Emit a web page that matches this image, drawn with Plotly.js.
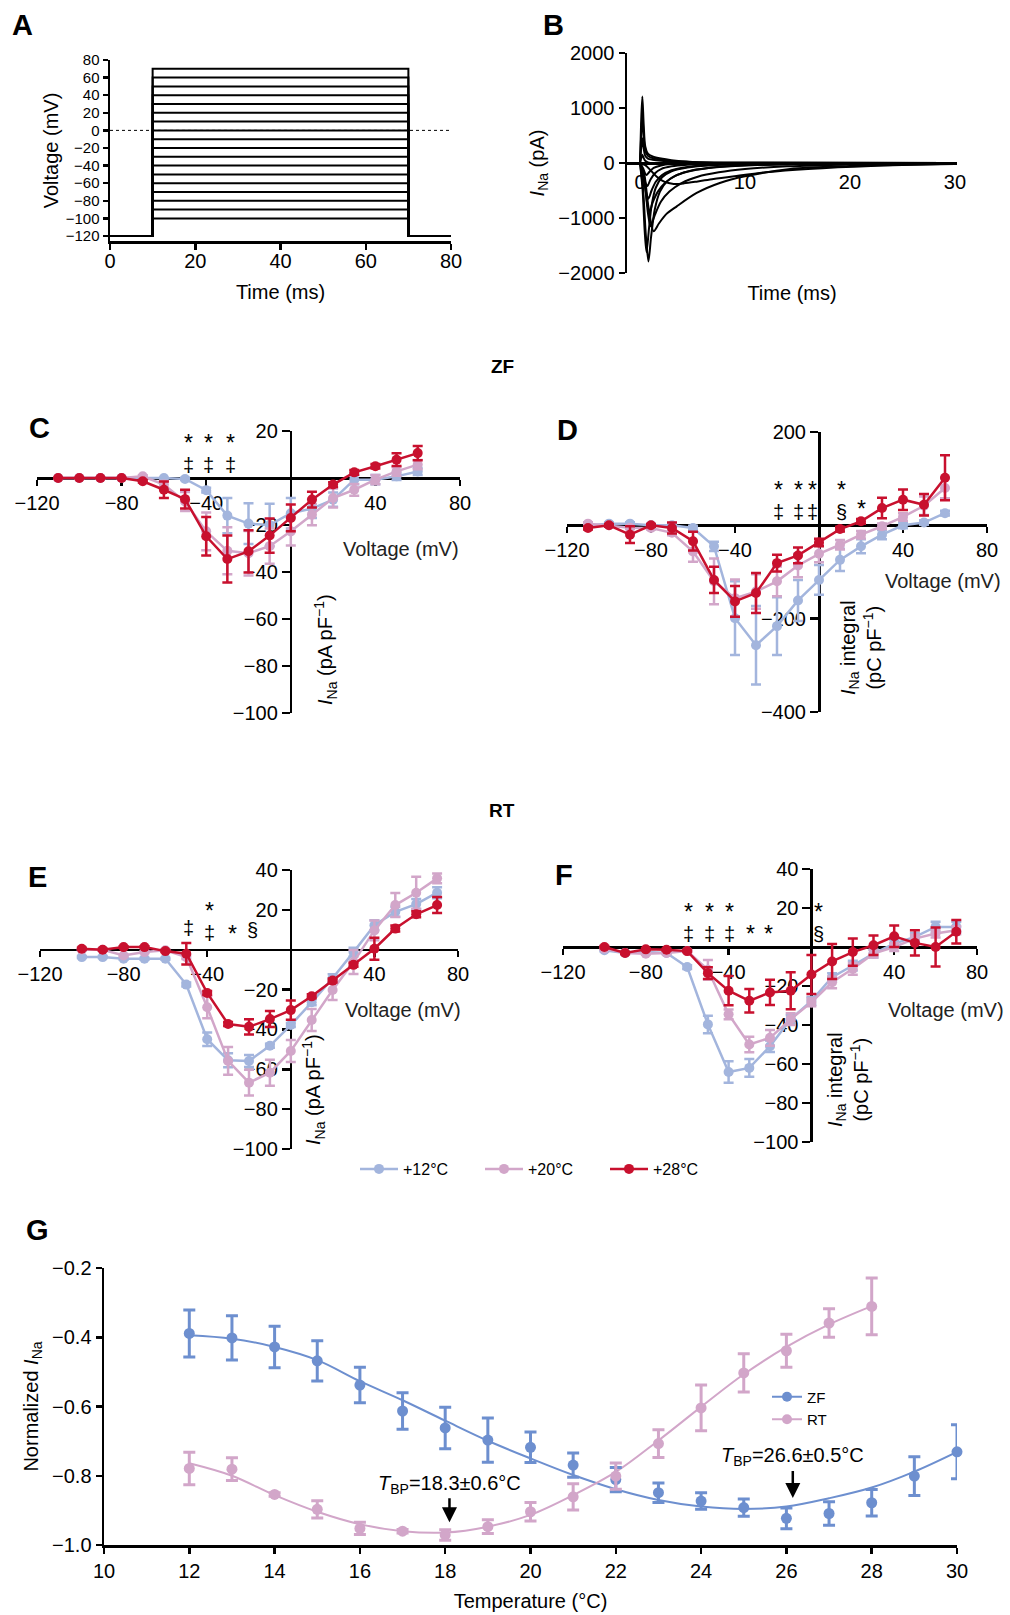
<!DOCTYPE html>
<html><head><meta charset="utf-8">
<script src="https://cdn.plot.ly/plotly-3.0.1.min.js"></script>
<style>html,body{margin:0;padding:0;background:#fff}#chart{width:1010px;height:1615px}</style>
</head><body><div id="chart"></div>
<script>
// ---------------- DATA ----------------
// Panel A: voltage protocol
const protocolTimes = [0, 10, 10, 70, 70, 80];
const holdingV = -120;
const stepVoltages = [-100,-90,-80,-70,-60,-50,-40,-30,-20,-10,0,10,20,30,40,50,60,70];

// Panel B: representative current traces (time ms, current pA)
const bT1 = [0,0.3,0.55,0.8,1.05,1.4,1.9,2.6,3.5,5,7,10,15,20,30];
const bI1 = [0,-500,-1300,-1790,-1350,-850,-520,-330,-220,-130,-80,-45,-20,-10,0];
const bT2 = [0,0.25,0.45,0.62,0.85,1.1,1.5,2.1,3,4.5,7,12,20,30];
const bI2 = [0,-500,-1250,-1620,-1200,-780,-450,-260,-150,-80,-40,-15,-5,0];
const bT3 = [0,0.4,0.8,1.3,1.8,2.5,3.5,5.4,7.6,10,14.3,20,25,30];
const bI3 = [0,-200,-800,-1240,-1100,-930,-788,-545,-364,-242,-109,-55,-30,-15];
const bT4 = [0,0.4,0.75,1.0,1.4,2,2.8,4,5.5,7.5,10,14,20,30];
const bI4 = [0,-300,-900,-1150,-950,-700,-520,-360,-250,-170,-110,-60,-25,-5];
const bT5 = [0,0.4,0.7,0.9,1.2,1.7,2.4,3.3,4.5,6.5,9,13,20,30];
const bI5 = [0,-300,-750,-900,-720,-520,-360,-240,-160,-90,-50,-25,-8,0];
const bT6 = [0,0.35,0.6,0.8,1.1,1.5,2.1,3,4.2,6,9,15,30];
const bI6 = [0,-250,-550,-650,-500,-340,-220,-130,-80,-40,-20,-5,0];
const bT7 = [0,0.3,0.5,0.7,1,1.4,2,3,4.5,7,12,30];
const bI7 = [0,-150,-350,-420,-300,-190,-110,-60,-30,-12,-4,0];
const bT8 = [0,0.3,0.6,0.9,1.3,2,3,5,10,30];
const bI8 = [0,-100,-220,-160,-90,-45,-20,-8,0,0];
const bT9 = [0,0.5,1,1.6,2.3,3.2,4.2,5.5,7,9,12,16,22,30];
const bI9 = [0,-40,-130,-250,-340,-380,-370,-335,-290,-240,-170,-110,-55,-20];
const bTout = [0,0.1,0.22,0.35,0.5,0.75,1.2,2,3,5,8,30];
const bO1 = [0,700,1210,700,300,170,120,80,50,20,5,0];
const bO2 = [0,450,850,480,220,130,90,60,35,15,5,0];
const bO3 = [0,250,450,260,130,80,60,40,25,10,3,0];
const bO4 = [0,80,150,90,40,10,-10,-15,-10,-5,0,0];

// Panels C, D (ZF): voltage steps
const voltsZF = [-110,-100,-90,-80,-70,-60,-50,-40,-30,-20,-10,0,10,20,30,40,50,60];
const cMean12 = [0,0,0,0,0,0,-0.4,-5.2,-16,-19.4,-20,-15,-13,-9.2,-0.7,-0.7,0.7,2.8];
const cErr12  = [0,0,0,0,0,0,0.5,1,7.5,8.7,9,6.5,4,3,2,2,1.5,1.5];
const cMean20 = [0,0,0,0,0.7,-2.8,-10,-22.7,-31,-32,-29,-22.7,-15.6,-8.5,-5,-0.7,2.8,5.7];
const cErr20  = [0,0,0,0,0.5,1.5,4,8,10,9.5,7.5,6,4.5,4,2.5,2,1.8,2];
const cMean28 = [0,0,0,0,-1.4,-5,-9,-24.8,-34.5,-31.2,-24.5,-17,-9.2,-2.8,2.4,5,7.8,10.6];
const cErr28  = [0,0,0,0,0.5,3.5,4,8.2,10,9,7.3,5.7,3.3,1,1,1,2.7,3];

const dMean12 = [0,3.6,3.6,0,0,-5.7,-45,-199,-257,-216,-161,-117,-74,-45,-20,0,6,26];
const dErr12  = [3,3,3,3,3,5,10,79,84,62,44,32,24,15,10,6,5,5];
const dMean20 = [3.6,0,-5,-5.7,-16,-56,-120,-156,-142,-120,-86,-61,-41.6,-20,-2,18,42,80];
const dErr20  = [3,3,3,3,5,22,49,40,37,32,25,18,10,8,6,8,20,22];
const dMean28 = [-5.7,0,-20,0,-5.7,-34,-117,-163,-145,-81,-64.5,-36.6,-8,8.6,37,55,44,102];
const dErr28  = [3,3,18,3,12,20,28,33,43,18,17,8,5,5,22,22,23,48];

// Panels E, F (RT)
const voltsRT = [-100,-90,-80,-70,-60,-50,-40,-30,-20,-10,0,10,20,30,40,50,60,70];
const eMean12 = [-3.7,-3.7,-4.5,-4.5,-4.5,-17.5,-44.9,-55.5,-55.8,-48.2,-37.8,-26.4,-14.3,-1.2,12.3,19,22.9,28.6];
const eErr12  = [0.5,0.5,0.5,0.5,0.5,1,3.4,3.5,3,1,1,1.5,2,2.2,2.5,2.5,2.5,2.8];
const eMean20 = [0,0,-2.9,-1.2,-0.3,-3.7,-28.9,-55.8,-66.7,-61.7,-50.8,-35.3,-20.2,-6.2,9.7,22.4,28.6,35.8];
const eErr20  = [0.5,0.5,0.5,0.5,0.5,1,5.5,7,6.5,6.5,5.5,5.5,5,6,5,6,8,2.5];
const eMean28 = [0.5,0,1.3,1.3,-0.7,-2,-21.7,-37.3,-38.7,-34.8,-30.3,-23.4,-15.5,-7.6,0.5,10.6,17.8,22.4];
const eErr28  = [0.5,0.5,0.5,0.5,0.5,5.4,1,1,3.8,4,4.8,1,1,1,5.5,1.5,1.5,4];

const fMean12 = [-1.7,-3.1,-2.6,-3.1,-10.3,-39.7,-64.1,-62,-50.9,-37,-27.6,-15.5,-9.5,-3.4,1.7,5.2,10.3,10.3];
const fErr12  = [0.5,0.5,0.5,0.5,1,4.5,5.5,4.5,3,2,2,2,2.5,2,2,2,2.6,2.6];
const fMean20 = [-0.9,-3.1,-3.4,-3.1,-2.1,-11.7,-34.5,-50,-46.6,-37,-28.4,-18.1,-11.2,-3.4,0,4.3,6.9,8.6];
const fErr20  = [0.5,0.5,0.5,0.5,0.5,5,2.5,4,4,3,2,3,3,2,2,2,2,2];
const fMean28 = [0,-3.1,-1.2,-1.4,-2.1,-13.4,-22.4,-27.6,-23.3,-22.4,-14.1,-7.4,-2.6,0.9,5.5,2.1,0,7.8];
const fErr28  = [0.5,0.5,0.5,0.5,0.5,3,7.5,6,6.5,9.5,10,9,7,5,5.5,6.5,10,6];

// Panel G: normalized INa vs temperature
const tempZF = [12,13,14,15,16,17,18,19,20,21,22,23,24,25,26,27,28,29,30];
const zfMean = [-0.389,-0.402,-0.428,-0.468,-0.538,-0.613,-0.662,-0.697,-0.718,-0.769,-0.811,-0.849,-0.873,-0.892,-0.923,-0.909,-0.878,-0.801,-0.731];
const zfErr  = [0.068,0.064,0.06,0.058,0.051,0.053,0.06,0.064,0.044,0.035,0.035,0.028,0.024,0.025,0.03,0.034,0.038,0.056,0.078];
const zfFit  = [-0.394,-0.404,-0.428,-0.466,-0.527,-0.582,-0.641,-0.699,-0.75,-0.798,-0.839,-0.87,-0.889,-0.896,-0.889,-0.865,-0.834,-0.788,-0.731];
const tempRT = [12,13,14,15,16,17,18,19,20,21,22,23,24,25,26,27,28];
const rtMean = [-0.779,-0.781,-0.854,-0.897,-0.952,-0.96,-0.971,-0.947,-0.904,-0.861,-0.801,-0.707,-0.604,-0.503,-0.439,-0.359,-0.311];
const rtErr  = [0.047,0.033,0.005,0.025,0.018,0.005,0.015,0.02,0.027,0.038,0.038,0.04,0.066,0.055,0.048,0.041,0.082];
const rtFit  = [-0.764,-0.80,-0.856,-0.904,-0.94,-0.96,-0.964,-0.947,-0.913,-0.856,-0.789,-0.698,-0.601,-0.507,-0.428,-0.363,-0.31];
const breakpointRT = {t: 18.1, y: -0.934, label: '<i>T</i><sub>BP</sub>=18.3±0.6°C'};
const breakpointZF = {t: 26.15, y: -0.864, label: '<i>T</i><sub>BP</sub>=26.6±0.5°C'};

// ---------------- STYLE / LAYOUT ----------------
const W = 1010, H = 1615;
const px = v => v / W;
const py = v => 1 - v / H;
const FONT = 'Liberation Sans, Arial, Helvetica, sans-serif';
const C12 = '#a3b5dd', C20 = '#d2a6c9', C28 = '#c8102e';
const CZF = '#6d8fcf', CRT = '#d2a6c9';

function ax(extra) {
  return Object.assign({
    showline: true, linecolor: '#000', linewidth: 2.5,
    ticks: 'outside', ticklen: 6, tickwidth: 2.5, tickcolor: '#000',
    showgrid: false, zeroline: false, automargin: false, fixedrange: true,
    tickfont: {family: FONT, size: 20, color: '#000'}
  }, extra);
}

const traces = [];

// Panel A
stepVoltages.forEach(v => {
  traces.push({type: 'scatter', mode: 'lines', x: protocolTimes,
    y: [holdingV, holdingV, v, v, holdingV, holdingV],
    line: {color: '#000', width: 2}, xaxis: 'x', yaxis: 'y', showlegend: false, hoverinfo: 'skip'});
});

// Panel B
[[bT1,bI1],[bT2,bI2],[bT3,bI3],[bT4,bI4],[bT5,bI5],[bT6,bI6],[bT7,bI7],[bT8,bI8],[bT9,bI9],
 [bTout,bO1],[bTout,bO2],[bTout,bO3],[bTout,bO4]].forEach(([t, i]) => {
  traces.push({type: 'scatter', mode: 'lines', x: t, y: i,
    line: {color: '#000', width: 2, shape: 'spline', smoothing: 0.8},
    xaxis: 'x2', yaxis: 'y2', showlegend: false, hoverinfo: 'skip'});
});

function ivTrace(x, y, err, color, name, xa, ya, showlegend) {
  return {type: 'scatter', mode: 'lines+markers', x: x, y: y, name: name,
    error_y: {type: 'data', array: err, visible: true, color: color, thickness: 2.5, width: 5},
    line: {color: color, width: 2.5}, marker: {color: color, size: 10},
    xaxis: xa, yaxis: ya, showlegend: showlegend, legend: 'legend', cliponaxis: false};
}
// C
traces.push(ivTrace(voltsZF, cMean12, cErr12, C12, '+12°C', 'x3', 'y3', true));
traces.push(ivTrace(voltsZF, cMean20, cErr20, C20, '+20°C', 'x3', 'y3', true));
traces.push(ivTrace(voltsZF, cMean28, cErr28, C28, '+28°C', 'x3', 'y3', true));
// D
traces.push(ivTrace(voltsZF, dMean12, dErr12, C12, '+12°C', 'x4', 'y4', false));
traces.push(ivTrace(voltsZF, dMean20, dErr20, C20, '+20°C', 'x4', 'y4', false));
traces.push(ivTrace(voltsZF, dMean28, dErr28, C28, '+28°C', 'x4', 'y4', false));
// E
traces.push(ivTrace(voltsRT, eMean12, eErr12, C12, '+12°C', 'x5', 'y5', false));
traces.push(ivTrace(voltsRT, eMean20, eErr20, C20, '+20°C', 'x5', 'y5', false));
traces.push(ivTrace(voltsRT, eMean28, eErr28, C28, '+28°C', 'x5', 'y5', false));
// F
traces.push(ivTrace(voltsRT, fMean12, fErr12, C12, '+12°C', 'x6', 'y6', false));
traces.push(ivTrace(voltsRT, fMean20, fErr20, C20, '+20°C', 'x6', 'y6', false));
traces.push(ivTrace(voltsRT, fMean28, fErr28, C28, '+28°C', 'x6', 'y6', false));

// G
traces.push({type: 'scatter', mode: 'lines', x: tempZF, y: zfFit, line: {color: CZF, width: 2, shape: 'spline'},
  xaxis: 'x7', yaxis: 'y7', showlegend: false, hoverinfo: 'skip'});
traces.push({type: 'scatter', mode: 'lines', x: tempRT, y: rtFit, line: {color: CRT, width: 2, shape: 'spline'},
  xaxis: 'x7', yaxis: 'y7', showlegend: false, hoverinfo: 'skip'});
traces.push({type: 'scatter', mode: 'markers', x: tempZF, y: zfMean, name: 'ZF',
  error_y: {type: 'data', array: zfErr, color: CZF, thickness: 3, width: 6},
  marker: {color: CZF, size: 11}, xaxis: 'x7', yaxis: 'y7', showlegend: false, cliponaxis: false});
traces.push({type: 'scatter', mode: 'markers', x: tempRT, y: rtMean, name: 'RT',
  error_y: {type: 'data', array: rtErr, color: CRT, thickness: 3, width: 6},
  marker: {color: CRT, size: 11}, xaxis: 'x7', yaxis: 'y7', showlegend: false, cliponaxis: false});
traces.push({type: 'scatter', mode: 'lines+markers', x: [null], y: [null], name: 'ZF', legend: 'legend2',
  line: {color: CZF, width: 2}, marker: {color: CZF, size: 10}, xaxis: 'x7', yaxis: 'y7'});
traces.push({type: 'scatter', mode: 'lines+markers', x: [null], y: [null], name: 'RT', legend: 'legend2',
  line: {color: CRT, width: 2}, marker: {color: CRT, size: 10}, xaxis: 'x7', yaxis: 'y7'});

// annotations
const ann = [];
function txt(text, x, y, size, opts) {
  ann.push(Object.assign({text: text, x: px(x), y: py(y), xref: 'paper', yref: 'paper',
    showarrow: false, xanchor: 'center', yanchor: 'middle',
    font: {family: FONT, size: size, color: '#000'}}, opts || {}));
}
// panel letters
[['A',22,25],['B',553,25],['C',39,428],['D',567,430],['E',37,877],['F',564,875],['G',37,1230]]
  .forEach(([l,x,y]) => txt('<b>' + l + '</b>', x, y, 29));
txt('<b>ZF</b>', 502, 367, 19);
txt('<b>RT</b>', 502, 810, 19);
// axis titles C-F
const titleFont = {family: FONT, size: 20, color: '#222'};
txt('Voltage (mV)', 401, 549, 20, {font: titleFont});
txt('Voltage (mV)', 943, 581, 20, {font: titleFont});
txt('Voltage (mV)', 403, 1010, 20, {font: titleFont});
txt('Voltage (mV)', 946, 1010, 20, {font: titleFont});
txt('<i>I</i><sub>Na</sub> (pA pF<sup>−1</sup>)', 325, 650, 20, {textangle: -90});
txt('<i>I</i><sub>Na</sub> (pA pF<sup>−1</sup>)', 313, 1090, 20, {textangle: -90});
txt('<i>I</i><sub>Na</sub> integral<br>(pC pF<sup>−1</sup>)', 861, 648, 20, {textangle: -90});
txt('<i>I</i><sub>Na</sub> integral<br>(pC pF<sup>−1</sup>)', 848, 1080, 20, {textangle: -90});
// significance marks
const STAR = '<span style="font-size:23px">*</span>';
function big(s) { return '<span style="font-size:20px">' + s + '</span>'; }
function sig(x, yTop, lines) {
  // two-line marks use a smaller base size so the rows sit closer together
  const two = lines.length > 1;
  ann.push({text: two ? lines.map(big).join('<br>') : lines[0], x: px(x), y: py(yTop),
    xref: 'paper', yref: 'paper', showarrow: false, xanchor: 'center', yanchor: 'top', align: 'center',
    font: {family: FONT, size: two ? 16 : 20, color: '#000'}});
}
// C
[188,208,230].forEach(x => sig(x, 428, [STAR, '‡']));
// D
sig(778, 475, [STAR, '‡']); sig(798, 475, [STAR, '‡']); sig(812, 475, [STAR, '‡']);
sig(841, 475, [STAR, '§']); sig(861, 494, [STAR]);
// E
sig(188, 915, ['‡']); sig(209, 896, [STAR, '‡']); sig(232, 919, [STAR]); sig(252, 917, ['§']);
// F
[688,709,729].forEach(x => sig(x, 897, [STAR, '‡']));
sig(750, 919, [STAR]); sig(768, 919, [STAR]); sig(818, 897, [STAR, '§']);
// breakpoint arrows in G
[[breakpointRT, -38], [breakpointZF, -41]].forEach(([bp, off]) => {
  ann.push({x: bp.t, y: bp.y, xref: 'x7', yref: 'y7', text: bp.label, showarrow: true,
    arrowhead: 2, arrowsize: 1.2, arrowwidth: 2.5, arrowcolor: '#000', ax: 0, ay: off,
    font: {family: FONT, size: 20, color: '#000'}});
});

const layout = {
  width: W, height: H, margin: {l: 0, r: 0, t: 0, b: 0},
  paper_bgcolor: '#fff', plot_bgcolor: 'rgba(0,0,0,0)',
  font: {family: FONT, size: 20, color: '#000'},
  // A
  xaxis: ax({domain: [px(110), px(451)], range: [0, 80], tickvals: [0,20,40,60,80], anchor: 'y',
    ticklabelstandoff: -6,
    title: {text: 'Time (ms)', font: {family: FONT, size: 20}, standoff: 15}}),
  yaxis: ax({domain: [py(241), py(60)], range: [-125.7, 80], tickvals: [-120,-100,-80,-60,-40,-20,0,20,40,60,80],
    anchor: 'x', tickfont: {family: FONT, size: 15, color: '#000'}, ticklen: 5,
    title: {text: 'Voltage (mV)', font: {family: FONT, size: 20}, standoff: 2}}),
  // B
  xaxis2: ax({domain: [px(627), px(957)], range: [-1.24, 30.2], tickvals: [0,10,20,30], anchor: 'free',
    position: py(163), layer: 'below traces', ticks: '',
    title: {text: 'Time (ms)', font: {family: FONT, size: 20}, standoff: 94}}),
  yaxis2: ax({domain: [py(273), py(53)], range: [-2000, 2000], tickvals: [-2000,-1000,0,1000,2000],
    tickformat: 'd', anchor: 'x2',
    title: {text: '<i>I</i><sub>Na</sub> (pA)', font: {family: FONT, size: 20}, standoff: 9}}),
  // C
  xaxis3: ax({domain: [px(37), px(460)], range: [-120, 80], tickvals: [-120,-80,-40,40,80],
    anchor: 'free', position: py(478), layer: 'below traces'}),
  yaxis3: ax({domain: [py(713), py(431)], range: [-100, 20], tickvals: [-100,-80,-60,-40,-20,20],
    anchor: 'free', position: px(290.8), layer: 'below traces', ticklen: 8}),
  // D
  xaxis4: ax({domain: [px(567), px(987)], range: [-120, 80], tickvals: [-120,-80,-40,40,80],
    anchor: 'free', position: py(525.3), layer: 'below traces'}),
  yaxis4: ax({domain: [py(712), py(432)], range: [-400, 200], tickvals: [-400,-200,200],
    anchor: 'free', position: px(819), layer: 'below traces', ticklen: 8}),
  // E
  xaxis5: ax({domain: [px(40), px(458)], range: [-120, 80], tickvals: [-120,-80,-40,40,80],
    anchor: 'free', position: py(949.7), layer: 'below traces'}),
  yaxis5: ax({domain: [py(1149), py(870)], range: [-100, 40], tickvals: [-100,-80,-60,-40,-20,20,40],
    anchor: 'free', position: px(290.8), layer: 'below traces', ticklen: 8}),
  // F
  xaxis6: ax({domain: [px(563), px(977)], range: [-120, 80], tickvals: [-120,-80,-40,40,80],
    anchor: 'free', position: py(947.3), layer: 'below traces'}),
  yaxis6: ax({domain: [py(1142), py(869)], range: [-100, 40], tickvals: [-100,-80,-60,-40,-20,20,40],
    anchor: 'free', position: px(811.4), layer: 'below traces', ticklen: 8}),
  // G
  xaxis7: ax({domain: [px(104), px(957)], range: [10, 30], dtick: 2, tick0: 10, anchor: 'y7',
    title: {text: 'Temperature (°C)', font: {family: FONT, size: 20}, standoff: 14}}),
  yaxis7: ax({domain: [py(1545), py(1268)], range: [-1, -0.2], tickvals: [-1,-0.8,-0.6,-0.4,-0.2],
    tickformat: '.1f', anchor: 'x7',
    title: {text: 'Normalized <i>I</i><sub>Na</sub>', font: {family: FONT, size: 20}, standoff: 8}}),
  shapes: [{type: 'line', xref: 'x', yref: 'y', x0: 0, x1: 80, y0: 0, y1: 0,
    line: {color: '#000', width: 1, dash: 'dot'}}],
  annotations: ann,
  legend: {orientation: 'h', x: px(355), y: py(1169), xanchor: 'left', yanchor: 'middle',
    font: {family: FONT, size: 16, color: '#000'}, entrywidth: 72, entrywidthmode: 'pixels',
    itemwidth: 38, bgcolor: 'rgba(0,0,0,0)', itemclick: false, itemdoubleclick: false},
  legend2: {orientation: 'v', x: px(767), y: py(1408), xanchor: 'left', yanchor: 'middle',
    font: {family: FONT, size: 15, color: '#000'}, bgcolor: 'rgba(0,0,0,0)', tracegroupgap: 0,
    itemclick: false, itemdoubleclick: false},
  showlegend: true
};

Plotly.newPlot('chart', traces, layout, {displayModeBar: false, staticPlot: true});
</script>
</body></html>
